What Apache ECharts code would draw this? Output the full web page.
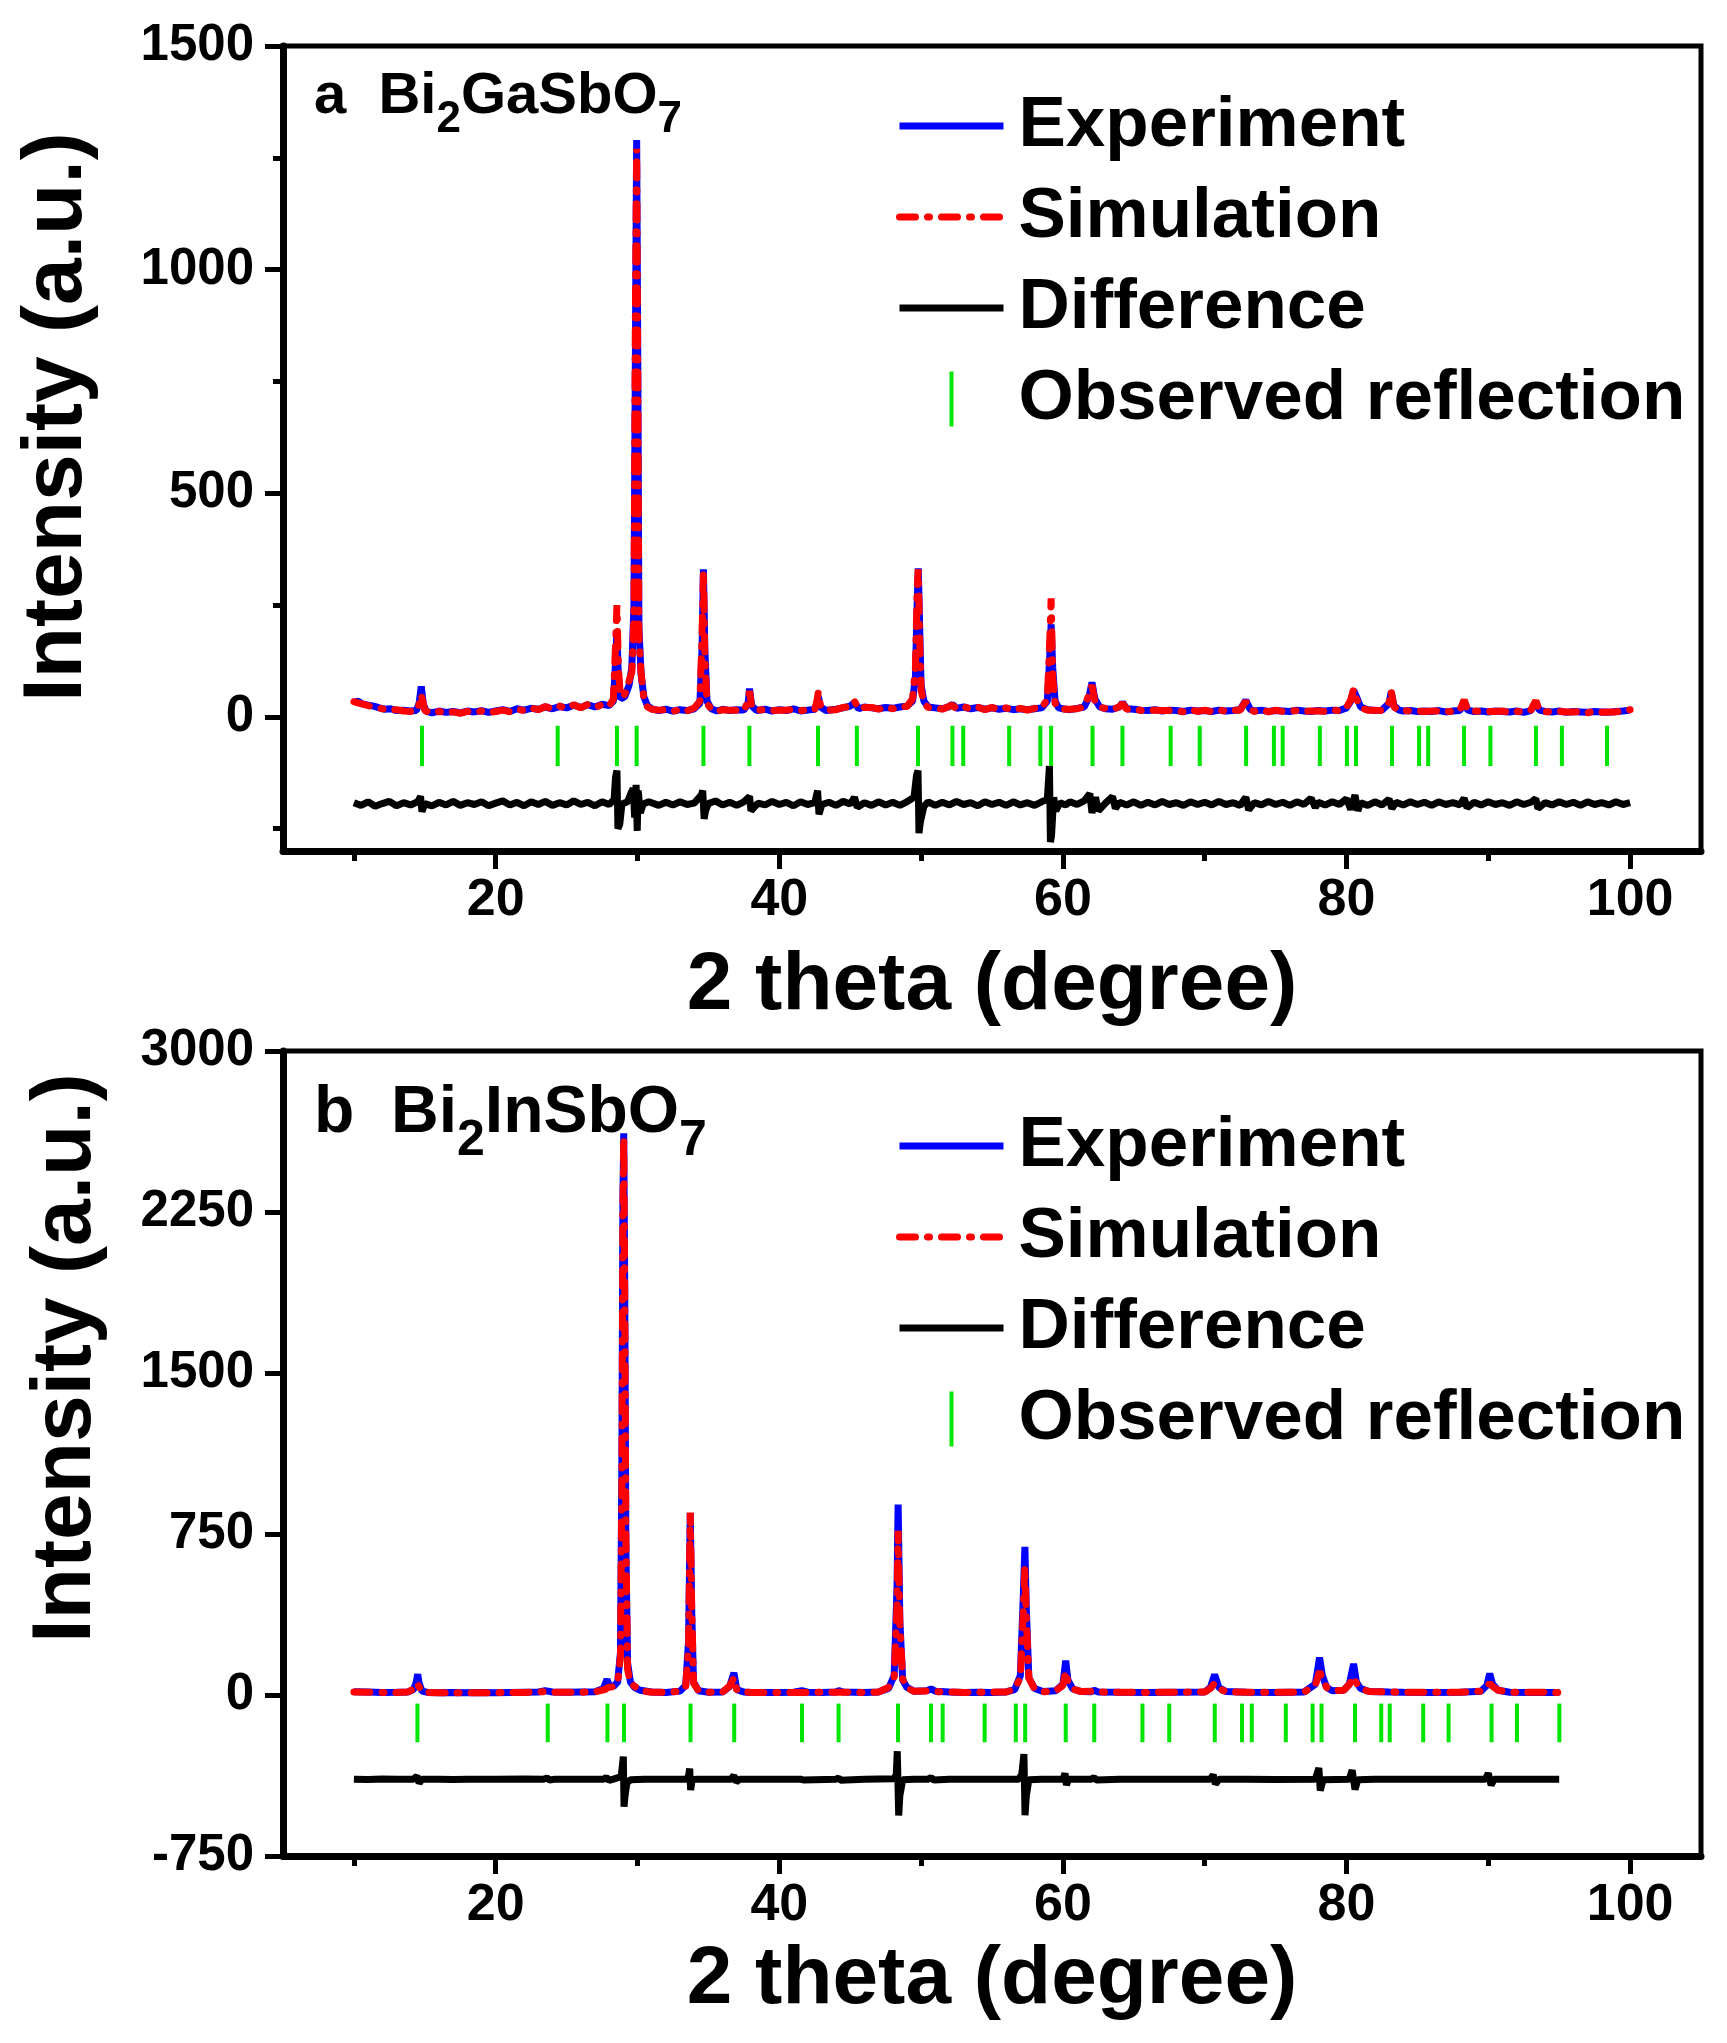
<!DOCTYPE html>
<html>
<head>
<meta charset="utf-8">
<script src="https://cdn.jsdelivr.net/npm/echarts@6.0.0/dist/echarts.min.js"></script>
<style>
  html, body { margin: 0; padding: 0; background: #fff; }
  #chart { width: 1727px; height: 2043px; }
</style>
</head>
<body>
<div id="chart"></div>
<script>
// axis ticks / labels
const xMajor = [20, 40, 60, 80, 100];
const xMinor = [10, 30, 50, 70, 90];
const aYMajor = [0, 500, 1000, 1500];
const aYMinor = [-250, 250, 750, 1250];

// panel a: Bi2GaSbO7  [2theta, intensity]
const aExp = [[10,32],[10.3,35],[10.6,29],[11,26],[11.4,24],[11.8,20],[12.2,17],[12.6,18],[13,14],[13.5,15],[14,13],[14.4,14],[14.6,30],[14.75,68],[14.9,28],[15.1,12],[15.5,9],[16,13],[16.5,10],[17,12],[17.5,9],[18,13],[18.5,11],[19,14],[19.5,10],[20,13],[20.5,16],[21,12],[21.5,18],[22,15],[22.5,19],[23,17],[23.5,22],[24,18],[24.5,23],[25,20],[25.5,26],[26,21],[26.5,27],[27,22],[27.5,28],[28,25],[28.3,35],[28.45,120],[28.55,190],[28.65,90],[28.8,40],[29.1,45],[29.4,70],[29.6,110],[29.75,250],[29.85,800],[29.94,1290],[30.02,800],[30.1,200],[30.25,95],[30.45,45],[30.7,25],[31,18],[31.5,14],[32,17],[32.5,13],[33,16],[33.5,14],[34,18],[34.4,30],[34.55,150],[34.65,330],[34.75,150],[34.9,35],[35.2,18],[35.6,13],[36,17],[36.5,14],[37,16],[37.5,15],[37.8,30],[37.9,63],[38.05,25],[38.4,14],[39,17],[39.5,13],[40,16],[40.5,14],[41,18],[41.5,13],[42,15],[42.5,17],[42.65,30],[42.75,46],[42.9,22],[43.3,14],[44,17],[44.5,20],[45,24],[45.3,32],[45.6,18],[46,22],[46.5,20],[47,18],[47.5,21],[48,19],[48.5,22],[49,24],[49.4,35],[49.6,90],[49.72,250],[49.8,332],[49.9,200],[50,70],[50.2,35],[50.5,22],[51,20],[51.5,18],[52,23],[52.2,28],[52.5,19],[53,22],[53.5,18],[54,21],[54.5,17],[55,20],[55.5,17],[56,19],[56.5,16],[57,18],[57.5,16],[58,18],[58.5,20],[58.9,35],[59.05,120],[59.17,207],[59.28,110],[59.45,35],[59.7,20],[60,18],[60.5,16],[61,19],[61.5,22],[61.85,45],[62.05,77],[62.25,40],[62.6,22],[63,18],[63.5,17],[64,22],[64.2,32],[64.5,18],[65,17],[65.5,15],[66,14],[66.5,16],[67,13],[67.5,15],[68,14],[68.5,12],[69,15],[69.5,13],[70,14],[70.5,12],[71,15],[71.5,13],[72,14],[72.5,16],[72.9,37],[73.2,17],[73.5,13],[74,15],[74.5,12],[75,14],[75.5,13],[76,12],[76.5,15],[77,13],[77.5,12],[78,14],[78.5,13],[79,15],[79.5,14],[80,20],[80.3,35],[80.5,60],[80.7,45],[81,22],[81.5,16],[82,14],[82.5,15],[83,30],[83.15,55],[83.35,25],[83.7,15],[84,13],[84.5,14],[85,12],[85.5,13],[86,12],[86.5,14],[87,11],[87.5,13],[88,14],[88.3,35],[88.55,15],[89,12],[89.5,13],[90,11],[90.5,13],[91,12],[91.5,11],[92,13],[92.5,10],[93,14],[93.35,34],[93.6,15],[94,12],[94.5,11],[95,13],[95.5,10],[96,12],[96.5,11],[97,10],[97.5,12],[98,11],[98.5,10],[99,12],[99.5,13],[100,15]];
const aSim = [[10,34],[10.4,30],[10.8,27],[11.2,23],[11.6,21],[12,18],[12.5,15],[13,16],[13.5,13],[14,12],[14.5,15],[14.75,50],[15,14],[15.5,8],[16,12],[16.5,9],[17,11],[17.5,8],[18,12],[18.5,10],[19,13],[19.5,9],[20,12],[20.5,15],[21,11],[21.5,17],[22,14],[22.5,20],[23,16],[23.5,23],[24,17],[24.5,24],[25,19],[25.5,27],[26,20],[26.5,28],[27,21],[27.5,27],[28,24],[28.3,40],[28.45,160],[28.55,250],[28.65,110],[28.8,45],[29.1,50],[29.4,80],[29.6,100],[29.75,220],[29.85,900],[29.94,1270],[30.02,750],[30.1,180],[30.25,100],[30.45,40],[30.7,22],[31,17],[31.5,15],[32,16],[32.5,12],[33,17],[33.5,13],[34,20],[34.4,35],[34.55,180],[34.65,325],[34.75,130],[34.9,30],[35.2,17],[35.6,12],[36,16],[36.5,15],[37,15],[37.5,14],[37.8,35],[37.9,58],[38.05,22],[38.4,15],[39,16],[39.5,14],[40,15],[40.5,15],[41,17],[41.5,14],[42,16],[42.5,16],[42.65,35],[42.75,55],[42.9,25],[43.3,15],[44,16],[44.5,21],[45,23],[45.3,35],[45.6,17],[46,21],[46.5,21],[47,17],[47.5,22],[48,18],[48.5,23],[49,23],[49.4,40],[49.6,110],[49.72,280],[49.8,330],[49.9,170],[50,60],[50.2,30],[50.5,21],[51,21],[51.5,17],[52,24],[52.2,26],[52.5,18],[53,23],[53.5,17],[54,22],[54.5,16],[55,21],[55.5,16],[56,20],[56.5,15],[57,19],[57.5,15],[58,19],[58.5,19],[58.9,40],[59.05,150],[59.17,265],[59.28,90],[59.45,30],[59.7,19],[60,17],[60.5,17],[61,18],[61.5,23],[61.85,50],[62.05,71],[62.25,35],[62.6,21],[63,19],[63.5,16],[64,23],[64.2,30],[64.5,17],[65,18],[65.5,14],[66,15],[66.5,15],[67,14],[67.5,14],[68,15],[68.5,11],[69,16],[69.5,12],[70,15],[70.5,11],[71,16],[71.5,12],[72,15],[72.5,15],[72.9,35],[73.2,16],[73.5,12],[74,16],[74.5,11],[75,15],[75.5,12],[76,13],[76.5,14],[77,12],[77.5,13],[78,13],[78.5,12],[79,16],[79.5,13],[80,21],[80.3,38],[80.5,62],[80.7,40],[81,20],[81.5,15],[82,15],[82.5,14],[83,32],[83.15,58],[83.35,22],[83.7,14],[84,14],[84.5,13],[85,13],[85.5,12],[86,13],[86.5,13],[87,12],[87.5,12],[88,15],[88.3,38],[88.55,14],[89,13],[89.5,12],[90,12],[90.5,12],[91,13],[91.5,10],[92,12],[92.5,11],[93,15],[93.35,36],[93.6,14],[94,11],[94.5,12],[95,12],[95.5,11],[96,11],[96.5,12],[97,9],[97.5,13],[98,10],[98.5,11],[99,11],[99.5,14],[100,16]];
const aDiff = [[10,-192],[10.5,-198],[11,-190],[11.5,-200],[12,-194],[12.5,-189],[13,-199],[13.5,-192],[14,-197],[14.5,-190],[14.7,-178],[14.8,-212],[15,-194],[15.5,-199],[16,-191],[16.5,-197],[17,-189],[17.5,-198],[18,-192],[18.5,-196],[19,-190],[19.5,-199],[20,-193],[20.5,-188],[21,-197],[21.5,-191],[22,-199],[22.5,-190],[23,-196],[23.5,-189],[24,-198],[24.5,-192],[25,-197],[25.5,-188],[26,-196],[26.5,-191],[27,-199],[27.5,-190],[28,-196],[28.35,-185],[28.45,-135],[28.55,-120],[28.62,-250],[28.75,-240],[28.9,-195],[29.3,-190],[29.55,-170],[29.7,-160],[29.8,-225],[29.9,-152],[29.98,-255],[30.05,-165],[30.2,-215],[30.4,-195],[30.8,-190],[31.5,-198],[32,-191],[32.5,-197],[33,-190],[33.5,-196],[34,-193],[34.5,-175],[34.6,-165],[34.7,-228],[34.8,-210],[35,-194],[35.5,-188],[36,-197],[36.5,-191],[37,-198],[37.5,-190],[37.9,-178],[38,-210],[38.5,-193],[39,-197],[39.5,-189],[40,-196],[40.5,-191],[41,-199],[41.5,-190],[42,-196],[42.5,-192],[42.7,-165],[42.8,-218],[43,-196],[43.5,-191],[44,-198],[44.5,-189],[45,-195],[45.3,-180],[45.5,-202],[46,-192],[46.5,-198],[47,-190],[47.5,-197],[48,-191],[48.5,-198],[49,-190],[49.5,-180],[49.68,-130],[49.78,-120],[49.85,-260],[49.95,-235],[50.2,-200],[50.5,-190],[51,-198],[51.5,-191],[52,-197],[52.5,-189],[53,-196],[53.5,-192],[54,-199],[54.5,-190],[55,-196],[55.5,-191],[56,-198],[56.5,-190],[57,-197],[57.5,-192],[58,-198],[58.5,-190],[58.9,-185],[59.05,-110],[59.12,-280],[59.2,-265],[59.35,-180],[59.5,-210],[59.8,-192],[60.2,-197],[60.5,-190],[61,-196],[61.5,-188],[61.9,-172],[62.05,-215],[62.3,-180],[62.5,-210],[63,-193],[63.5,-178],[63.7,-205],[64,-191],[64.5,-197],[65,-190],[65.5,-198],[66,-191],[66.5,-197],[67,-189],[67.5,-196],[68,-192],[68.5,-198],[69,-190],[69.5,-196],[70,-191],[70.5,-197],[71,-189],[71.5,-196],[72,-192],[72.5,-198],[72.9,-180],[73.1,-208],[73.5,-192],[74,-197],[74.5,-189],[75,-196],[75.5,-191],[76,-198],[76.5,-190],[77,-196],[77.5,-182],[77.8,-203],[78,-191],[78.5,-197],[79,-190],[79.5,-196],[80,-183],[80.3,-207],[80.6,-175],[80.8,-210],[81,-192],[81.5,-198],[82,-190],[82.5,-197],[83,-184],[83.2,-205],[83.5,-191],[84,-197],[84.5,-190],[85,-196],[85.5,-191],[86,-198],[86.5,-190],[87,-196],[87.5,-192],[88,-197],[88.3,-182],[88.5,-203],[89,-191],[89.5,-197],[90,-190],[90.5,-196],[91,-192],[91.5,-198],[92,-190],[92.5,-196],[93,-191],[93.35,-183],[93.5,-205],[94,-192],[94.5,-197],[95,-190],[95.5,-196],[96,-191],[96.5,-198],[97,-190],[97.5,-196],[98,-192],[98.5,-197],[99,-190],[99.5,-196],[100,-192]];
const aRefl = [14.80, 24.37, 28.55, 29.94, 34.65, 37.89, 42.73, 45.47, 49.78, 52.21, 52.97, 56.21, 58.41, 59.17, 62.09, 64.20, 67.60, 69.65, 72.92, 74.88, 75.50, 78.12, 80.03, 80.67, 83.21, 85.12, 85.76, 88.29, 90.15, 93.36, 95.19, 98.37];
const aReflSpan = [-110, -20];

// panel b: Bi2InSbO7
const bExp = [[10,15],[11,14],[12,12],[13,13],[13.8,14],[14.2,25],[14.4,60],[14.5,97],[14.6,55],[14.8,18],[15.2,12],[16,11],[17,12],[18,11],[19,12],[20,11],[21,12],[22,13],[23,14],[23.5,20],[23.7,18],[24,14],[25,13],[26,14],[27,15],[27.6,30],[27.85,73],[28,45],[28.3,40],[28.6,60],[28.8,200],[28.9,1100],[28.97,2300],[29.03,2617],[29.1,1900],[29.18,700],[29.3,150],[29.5,60],[29.8,35],[30.2,22],[31,14],[32,12],[33,18],[33.4,45],[33.6,250],[33.72,848],[33.82,400],[33.95,60],[34.3,20],[35,13],[36,14],[36.5,40],[36.8,103],[37,25],[37.5,14],[38,12],[40,12],[41,13],[41.6,20],[42,13],[43,12],[44,14],[44.2,20],[44.5,14],[46,12],[47,14],[47.7,30],[48.1,90],[48.3,500],[48.38,887],[48.5,350],[48.7,70],[49,35],[49.5,18],[50.4,20],[50.7,28],[51,18],[52,14],[53,12],[54,13],[55,12],[56,14],[56.6,25],[57,90],[57.2,450],[57.32,690],[57.42,400],[57.6,80],[58,30],[58.6,16],[59.5,20],[60,50],[60.2,160],[60.35,70],[60.7,28],[61.3,16],[62,15],[62.2,22],[62.5,14],[64,13],[66,12],[68,13],[70,14],[70.4,35],[70.7,95],[71,35],[71.5,16],[73,13],[75,12],[76,13],[77,14],[77.8,50],[78.1,175],[78.3,90],[78.6,35],[79,20],[79.8,22],[80.2,50],[80.5,145],[80.7,60],[81,30],[81.6,16],[83,14],[84,13],[86,12],[88,13],[89.5,18],[89.9,45],[90.1,100],[90.3,50],[90.7,22],[91.5,13],[93,12],[95,12]];
const bSim = [[10,14],[11,13],[12,12],[13,12],[13.8,14],[14.2,28],[14.45,55],[14.55,48],[14.8,16],[15.2,12],[16,11],[18,11],[20,11],[22,12],[23,14],[23.6,16],[24,13],[26,13],[27,15],[27.7,25],[27.9,35],[28.2,38],[28.6,55],[28.8,180],[28.9,1000],[28.97,2250],[29.03,2600],[29.1,1850],[29.18,750],[29.3,120],[29.5,55],[29.8,40],[30.2,20],[31,13],[32,12],[33,18],[33.4,40],[33.6,230],[33.72,850],[33.82,420],[33.95,55],[34.3,20],[35,13],[36,14],[36.5,42],[36.8,80],[37,22],[37.5,14],[38,12],[40,12],[42,12],[44,13],[46,12],[47,14],[47.7,35],[48.1,80],[48.3,420],[48.38,765],[48.5,330],[48.7,75],[49,33],[49.5,17],[50.7,20],[51,16],[53,12],[56,14],[56.6,28],[57,80],[57.2,380],[57.32,600],[57.42,360],[57.6,80],[58,28],[58.6,15],[59.5,20],[60,45],[60.2,110],[60.35,65],[60.7,28],[61.3,16],[62.2,18],[63,13],[66,12],[70,14],[70.4,30],[70.7,55],[71,30],[71.5,15],[73,13],[76,13],[77,14],[77.8,45],[78.1,110],[78.3,75],[78.6,35],[79,20],[79.8,22],[80.2,50],[80.5,85],[80.7,55],[81,30],[81.6,16],[84,13],[88,13],[89.5,18],[89.9,40],[90.1,55],[90.3,40],[90.7,22],[91.5,13],[95,12]];
const bDiff = [[10,-392],[11,-394],[12,-391],[13,-393],[14.2,-392],[14.45,-378],[14.6,-410],[14.8,-393],[16,-392],[17,-394],[18,-392],[20,-393],[22,-391],[23.4,-392],[23.6,-386],[23.8,-396],[24.2,-392],[26,-393],[27.6,-392],[27.8,-384],[28,-398],[28.3,-392],[28.85,-380],[29,-287],[29.05,-520],[29.12,-470],[29.25,-410],[29.5,-395],[30.5,-392],[32,-393],[33.5,-392],[33.62,-370],[33.68,-343],[33.75,-443],[33.85,-395],[34.2,-392],[36.6,-392],[36.8,-375],[36.95,-405],[37.2,-392],[40,-393],[41.5,-392],[41.6,-386],[41.7,-396],[44,-392],[44.2,-386],[44.3,-397],[46,-392],[48.1,-390],[48.25,-370],[48.32,-262],[48.42,-561],[48.5,-470],[48.7,-395],[49.5,-392],[50.5,-392],[50.7,-385],[50.9,-396],[52,-392],[54,-393],[56.9,-392],[57.1,-370],[57.25,-275],[57.33,-560],[57.42,-470],[57.6,-395],[58.5,-392],[60,-392],[60.15,-365],[60.25,-420],[60.4,-392],[62,-392],[62.2,-385],[62.35,-396],[64,-392],[66,-393],[68,-392],[70.4,-392],[70.6,-372],[70.75,-415],[71,-393],[73,-392],[75,-394],[77.8,-392],[78.05,-340],[78.15,-445],[78.35,-395],[80.2,-392],[80.4,-350],[80.6,-440],[80.8,-395],[82,-392],[85,-392],[87,-393],[89.8,-392],[90,-365],[90.2,-420],[90.4,-393],[92,-392],[95,-392]];
const bRefl = [14.48, 23.67, 27.88, 29.05, 33.74, 36.82, 41.60, 44.18, 48.37, 50.70, 51.52, 54.48, 56.68, 57.34, 60.20, 62.21, 65.61, 67.50, 70.71, 72.63, 73.32, 75.72, 77.61, 78.24, 80.60, 82.45, 83.05, 85.41, 87.20, 90.23, 92.02, 95.01];
const bReflSpan = [-220, -40];

const FONT = "'Liberation Sans', Arial, Helvetica, sans-serif";
const BLUE = "#0000ff", RED = "#ff0000", GREEN = "#00e600";

function plainNum(v) {
  return String(v);
}

function tickAxisX(grid, name, gap) {
  return [
    {
      type: "value", gridIndex: grid, min: 5, max: 105, position: "bottom",
      name: name, nameLocation: "middle", nameGap: gap,
      nameTextStyle: { fontSize: 82, fontWeight: "bold", fontFamily: FONT, color: "#000" },
      axisLine: { show: true, onZero: false, lineStyle: { color: "#000", width: 7 } },
      axisTick: { customValues: xMajor, length: 18, lineStyle: { color: "#000", width: 5 } },
      axisLabel: { customValues: xMajor, formatter: plainNum, fontSize: 52, fontWeight: "bold", fontFamily: FONT, color: "#000", margin: 24 },
      splitLine: { show: false }
    },
    {
      type: "value", gridIndex: grid, min: 5, max: 105, position: "bottom",
      axisLine: { show: false, onZero: false },
      axisTick: { customValues: xMinor, length: 10, lineStyle: { color: "#000", width: 5 } },
      axisLabel: { show: false },
      splitLine: { show: false }
    }
  ];
}

function reflSeries(name, thetas, span, xi, yi) {
  return {
    name: name, type: "custom", xAxisIndex: xi, yAxisIndex: yi,
    color: GREEN, itemStyle: { color: GREEN },
    data: thetas.map(t => [t, span[0], span[1]]),
    renderItem: function (params, api) {
      let lo = api.coord([api.value(0), api.value(1)]),
        hi = api.coord([api.value(0), api.value(2)]);
      return {
        type: "line",
        shape: { x1: lo[0], y1: lo[1], x2: hi[0], y2: hi[1] },
        style: { stroke: GREEN, lineWidth: 4 }
      };
    },
    z: 4
  };
}

function lineSeries(name, data, xi, yi, style, z) {
  return {
    name: name, type: "line", xAxisIndex: xi, yAxisIndex: yi,
    data: data, showSymbol: false, symbol: "none",
    color: style.color, lineStyle: style, z: z
  };
}

function legendFor(top) {
  return {
    orient: "vertical", left: 896, top: top, padding: 0,
    itemWidth: 104, itemHeight: 55, itemGap: 11,
    // hide the marker that line legends draw in the middle of the line
    itemStyle: { opacity: 0 },
    lineStyle: { width: 7 },
    textStyle: { fontSize: 71, fontWeight: "bold", fontFamily: FONT, color: "#000", lineHeight: 80, padding: [0, 0, 0, 10] },
    data: [
      { name: "Experiment" },
      { name: "Simulation" },
      { name: "Difference" },
      { name: "Observed reflection", icon: "path://M0,0L1,0L1,14L0,14Z", itemStyle: { color: GREEN, opacity: 1 } }
    ],
    selectedMode: false
  };
}

function titleRich(size, sub, pad) {
  return {
    m: { fontSize: size, lineHeight: size, fontWeight: "bold", fontFamily: FONT, color: "#000", verticalAlign: "top" },
    s: { fontSize: sub, lineHeight: sub, fontWeight: "bold", fontFamily: FONT, color: "#000", verticalAlign: "top", padding: [pad, 0, 0, 0] }
  };
}

let myChart = echarts.init(document.getElementById("chart"), null, { renderer: "canvas" }),
  option;

const expStyle = { color: BLUE, width: 7 };
const simStyle = { color: RED, width: 7, type: [16, 12, 2, 12], cap: "round" };
const diffStyle = { color: "#000", width: 7 };

option = {
  animation: false,
  backgroundColor: "#fff",
  title: [
    { left: 314, top: 68, padding: 0, text: "{m|a  Bi}{s|2}{m|GaSbO}{s|7}", textStyle: { rich: titleRich(58, 44, 30) } },
    { left: 314, top: 1081, padding: 0, text: "{m|b  Bi}{s|2}{m|InSbO}{s|7}", textStyle: { rich: titleRich(66, 50, 35) } }
  ],
  legend: [legendFor(86), legendFor(1106)],
  grid: [
    { left: 283, right: 26, top: 46, height: 805, show: true, borderColor: "#000", borderWidth: 5, containLabel: false },
    { left: 283, right: 26, top: 1051, height: 805, show: true, borderColor: "#000", borderWidth: 5, containLabel: false }
  ],
  xAxis: [].concat(tickAxisX(0, "2 theta (degree)", 94), tickAxisX(1, "2 theta (degree)", 83)),
  yAxis: [
    {
      type: "value", gridIndex: 0, min: -300, max: 1500, position: "left",
      axisLine: { show: true, onZero: false, lineStyle: { color: "#000", width: 7 } },
      axisTick: { customValues: aYMajor, length: 18, lineStyle: { color: "#000", width: 5 } },
      axisLabel: { customValues: aYMajor, formatter: plainNum, fontSize: 51, fontWeight: "bold", fontFamily: FONT, color: "#000", margin: 29 },
      splitLine: { show: false }
    },
    {
      type: "value", gridIndex: 0, min: -300, max: 1500, position: "left",
      axisLine: { show: false, onZero: false },
      axisTick: { customValues: aYMinor, length: 10, lineStyle: { color: "#000", width: 5 } },
      axisLabel: { show: false },
      splitLine: { show: false }
    },
    {
      type: "value", gridIndex: 1, min: -750, max: 3000, interval: 750, position: "left",
      axisLine: { show: true, onZero: false, lineStyle: { color: "#000", width: 7 } },
      axisTick: { length: 18, lineStyle: { color: "#000", width: 5 } },
      axisLabel: { formatter: plainNum, fontSize: 51, fontWeight: "bold", fontFamily: FONT, color: "#000", margin: 29 },
      splitLine: { show: false }
    }
  ],
  graphic: [
    { type: "text", x: 58, y: 417, rotation: Math.PI / 2,
      style: { text: "Intensity (a.u.)", fontSize: 84, fontWeight: "bold", fontFamily: FONT, fill: "#000", align: "center", verticalAlign: "middle" } },
    { type: "text", x: 67, y: 1358, rotation: Math.PI / 2,
      style: { text: "Intensity (a.u.)", fontSize: 84, fontWeight: "bold", fontFamily: FONT, fill: "#000", align: "center", verticalAlign: "middle" } }
  ],
  series: [
    lineSeries("Experiment", aExp, 0, 0, expStyle, 2),
    lineSeries("Simulation", aSim, 0, 0, simStyle, 3),
    lineSeries("Difference", aDiff, 0, 0, diffStyle, 2),
    reflSeries("Observed reflection", aRefl, aReflSpan, 0, 0),
    lineSeries("Experiment", bExp, 2, 2, expStyle, 2),
    lineSeries("Simulation", bSim, 2, 2, simStyle, 3),
    lineSeries("Difference", bDiff, 2, 2, diffStyle, 2),
    reflSeries("Observed reflection", bRefl, bReflSpan, 2, 2)
  ]
};

if (option && typeof option === "object") myChart.setOption(option);
window.addEventListener("resize", function () {
  myChart.resize();
});
</script>
</body>
</html>
